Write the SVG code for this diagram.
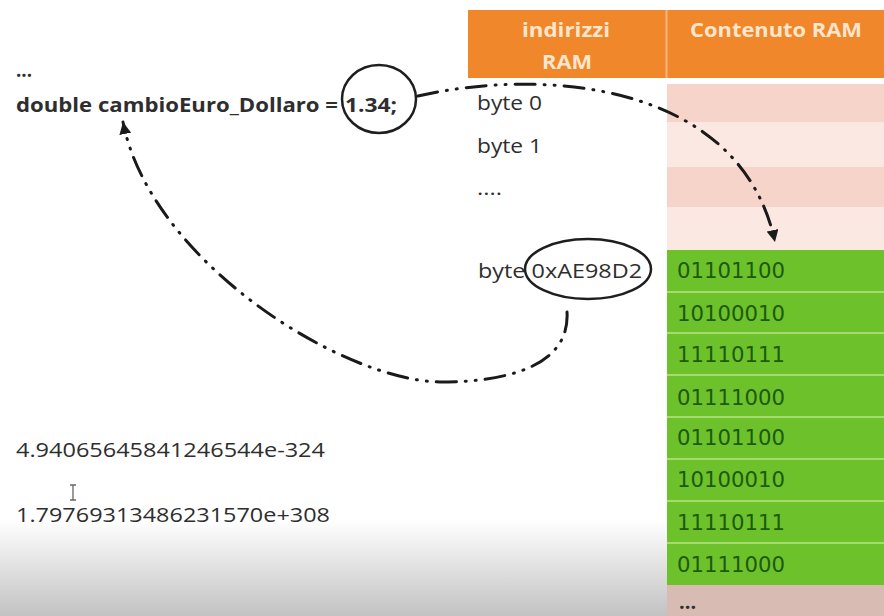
<svg xmlns="http://www.w3.org/2000/svg" width="884" height="616" viewBox="0 0 884 616">
<defs>
<linearGradient id="bottomShade" x1="0" y1="0" x2="0" y2="1">
<stop offset="0" stop-color="#ffffff"/>
<stop offset="1" stop-color="#c2c2c2"/>
</linearGradient>
<marker id="arrow" markerUnits="userSpaceOnUse" markerWidth="12" markerHeight="12" refX="10" refY="5" orient="auto" viewBox="0 0 10 10">
<path d="M0,0 L10,5 L0,10 z" fill="#1a1a1a"/>
</marker>
<style>
.txt{font-family:"Open Sans","Liberation Sans",sans-serif;fill:#2e2e2e;font-size:20px}
.bold{font-weight:bold}
.hdr{font-family:"Open Sans","Liberation Sans",sans-serif;font-weight:bold;font-size:20px;fill:#fde6cc;text-anchor:middle}
.bin{font-family:"DejaVu Sans","Verdana",sans-serif;font-size:20.5px;fill:#1d5a0b}
.pinkA{fill:#f7d4c9}
.pinkB{fill:#fce8e2}
.green{fill:#6dc22b}
.sep{stroke:#a6dc6e;stroke-width:2}
.ring{fill:none;stroke:#1e1e1e;stroke-width:2.5}
.conn{fill:none;stroke:#1a1a1a;stroke-width:3;stroke-dasharray:20 9 1 9 1 9;stroke-linecap:round}
</style>
</defs>
<rect x="0" y="0" width="884" height="616" fill="#ffffff"/>
<rect x="0" y="520" width="667" height="96" fill="url(#bottomShade)"/>

<g id="header">
<rect x="468" y="10" width="416" height="68" fill="#f0872b"/>
<line x1="666.5" y1="10" x2="666.5" y2="78" stroke="#f7b77c" stroke-width="2"/>
<text class="hdr" x="566" y="37" textLength="88" lengthAdjust="spacingAndGlyphs">indirizzi</text>
<text class="hdr" x="567" y="69" textLength="50" lengthAdjust="spacingAndGlyphs">RAM</text>
<text class="hdr" x="776" y="37" textLength="172" lengthAdjust="spacingAndGlyphs">Contenuto RAM</text>
</g>

<g id="ram-empty-cells">
<rect class="pinkA" x="667" y="84" width="217" height="38"/>
<rect class="pinkB" x="667" y="122" width="217" height="45"/>
<rect class="pinkA" x="667" y="167" width="217" height="40"/>
<rect class="pinkB" x="667" y="207" width="217" height="43"/>
</g>

<g id="ram-double-cells">
<rect class="green" x="667" y="250" width="217" height="335"/>
<line class="sep" x1="667" y1="292" x2="884" y2="292"/>
<line class="sep" x1="667" y1="333" x2="884" y2="333"/>
<line class="sep" x1="667" y1="375" x2="884" y2="375"/>
<line class="sep" x1="667" y1="417" x2="884" y2="417"/>
<line class="sep" x1="667" y1="459" x2="884" y2="459"/>
<line class="sep" x1="667" y1="501" x2="884" y2="501"/>
<line class="sep" x1="667" y1="543" x2="884" y2="543"/>
<text class="bin" x="677" y="278" textLength="108" lengthAdjust="spacingAndGlyphs">01101100</text>
<text class="bin" x="677" y="321" textLength="108" lengthAdjust="spacingAndGlyphs">10100010</text>
<text class="bin" x="677" y="362" textLength="108" lengthAdjust="spacingAndGlyphs">11110111</text>
<text class="bin" x="677" y="405" textLength="108" lengthAdjust="spacingAndGlyphs">01111000</text>
<text class="bin" x="677" y="445" textLength="108" lengthAdjust="spacingAndGlyphs">01101100</text>
<text class="bin" x="677" y="487" textLength="108" lengthAdjust="spacingAndGlyphs">10100010</text>
<text class="bin" x="677" y="530" textLength="108" lengthAdjust="spacingAndGlyphs">11110111</text>
<text class="bin" x="677" y="572" textLength="108" lengthAdjust="spacingAndGlyphs">01111000</text>
</g>

<g id="ram-more-cells">
<rect x="667" y="585" width="217" height="31" fill="#d8bcb4"/>
<text class="txt bold" x="679" y="609" font-size="16">...</text>
</g>

<g id="code-line">
<text class="txt bold" x="16" y="77" font-size="13" textLength="16" lengthAdjust="spacingAndGlyphs">...</text>
<text class="txt bold" y="112" font-size="21"><tspan x="16" textLength="322" lengthAdjust="spacingAndGlyphs">double cambioEuro_Dollaro =</tspan><tspan x="345" textLength="52" lengthAdjust="spacingAndGlyphs">1.34;</tspan></text>
<ellipse class="ring" cx="379" cy="99" rx="37" ry="34"/>
</g>

<g id="addresses">
<text class="txt" x="477" y="110" textLength="65" lengthAdjust="spacingAndGlyphs">byte 0</text>
<text class="txt" x="477" y="153" textLength="65" lengthAdjust="spacingAndGlyphs">byte 1</text>
<text class="txt" x="477" y="195" font-size="14" textLength="25" lengthAdjust="spacingAndGlyphs">....</text>
<text class="txt" x="478" y="278" textLength="164" lengthAdjust="spacingAndGlyphs">byte 0xAE98D2</text>
<ellipse class="ring" cx="588" cy="269" rx="63" ry="30"/>
</g>

<g id="limits">
<text class="txt" x="16" y="457" textLength="309" lengthAdjust="spacingAndGlyphs">4.94065645841246544e-324</text>
<text class="txt" x="16" y="522" textLength="314" lengthAdjust="spacingAndGlyphs">1.79769313486231570e+308</text>
<path d="M70,485 L76,485 M73,485 L73,500 M70,500 L76,500" stroke="#666" stroke-width="1.3" fill="none"/>
</g>

<g id="connectors">
<path class="conn" d="M418,96 C 540,68 740,80 775,242" marker-end="url(#arrow)"/>
<path class="conn" d="M567,312 C 570,360 520,382 440,382 C 340,380 150,260 123,122" marker-end="url(#arrow)"/>
</g>
</svg>
